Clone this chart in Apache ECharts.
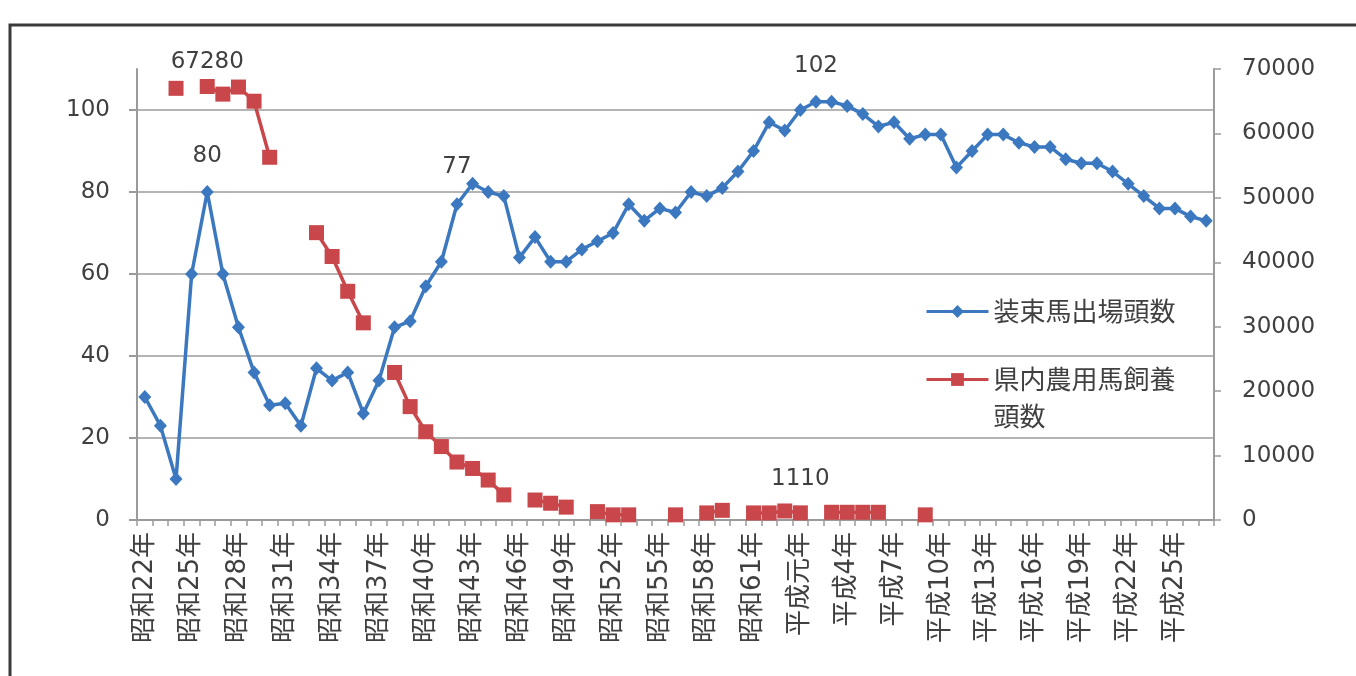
<!DOCTYPE html>
<html>
<head>
<meta charset="utf-8">
<script src="https://cdn.jsdelivr.net/npm/echarts@6/dist/echarts.min.js"></script>
<style>
  html, body { margin: 0; padding: 0; background: #ffffff; }
  #chart { width: 1356px; height: 676px; }
</style>
</head>
<body>
<div id="chart"></div>
<script>
// Years from 昭和22年 (1947) to 平成27年 (2015)
const categories = [
  '昭和22年','昭和23年','昭和24年','昭和25年','昭和26年','昭和27年','昭和28年','昭和29年','昭和30年','昭和31年',
  '昭和32年','昭和33年','昭和34年','昭和35年','昭和36年','昭和37年','昭和38年','昭和39年','昭和40年','昭和41年',
  '昭和42年','昭和43年','昭和44年','昭和45年','昭和46年','昭和47年','昭和48年','昭和49年','昭和50年','昭和51年',
  '昭和52年','昭和53年','昭和54年','昭和55年','昭和56年','昭和57年','昭和58年','昭和59年','昭和60年','昭和61年',
  '昭和62年','昭和63年','平成元年','平成2年','平成3年','平成4年','平成5年','平成6年','平成7年','平成8年',
  '平成9年','平成10年','平成11年','平成12年','平成13年','平成14年','平成15年','平成16年','平成17年','平成18年',
  '平成19年','平成20年','平成21年','平成22年','平成23年','平成24年','平成25年','平成26年','平成27年'
];

const seriesNames = ['装束馬出場頭数', '県内農用馬飼養頭数'];

// 装束馬出場頭数 (left axis)
const paradeHorses = [
  30, 23, 10, 60, 80, 60, 47, 36, 28, 28.5,
  23, 37, 34, 36, 26, 34, 47, 48.5, 57, 63,
  77, 82, 80, 79, 64, 69, 63, 63, 66, 68,
  70, 77, 73, 76, 75, 80, 79, 81, 85, 90,
  97, 95, 100, 102, 102, 101, 99, 96, 97, 93,
  94, 94, 86, 90, 94, 94, 92, 91, 91, 88,
  87, 87, 85, 82, 79, 76, 76, 74, 73
];

// 県内農用馬飼養頭数 (right axis); null = no record that year
const farmHorses = [
  null, null, 67000, null, 67280, 66100, 67200, 65000, 56300, null,
  null, 44600, 40900, 35500, 30600, null, 22900, 17600, 13700, 11400,
  9000, 8000, 6200, 3900, null, 3100, 2600, 2000, null, 1300,
  800, 800, null, null, 800, null, 1100, 1500, null, 1100,
  1100, 1400, 1110, null, 1200, 1200, 1200, 1200, null, null,
  800, null, null, null, null, null, null, null, null, null,
  null, null, null, null, null, null, null, null, null
];

// Points that carry a value label, with the label's gap above the marker
const paradeLabels = [[4, 17], [20, 19], [43, 17]];
const farmLabels = [[4, 5], [42, 15]];

const leftTicks = [0, 20, 40, 60, 80, 100];

const BLUE = '#3B78BF';
const RED = '#C9474A';
const TEXT = '#404040';
const NUM_FONT = "'DejaVu Sans', 'Noto Sans CJK JP', sans-serif";
const CJK_FONT = "'Noto Sans CJK JP', 'DejaVu Sans', sans-serif";

function withLabels(values, labels) {
  const gaps = new Map(labels);
  return values.map((v, i) => gaps.has(i)
    ? { value: v, label: { show: true, distance: gaps.get(i) } }
    : v);
}

const chart = echarts.init(document.getElementById('chart'), null, { renderer: 'canvas' });

const legendCommon = {
  left: 925, padding: 0, itemGap: 0,
  itemWidth: 62, itemHeight: 16,
  lineStyle: { width: 3 },
  textStyle: { fontSize: 26, lineHeight: 37, color: TEXT, fontFamily: CJK_FONT }
};

chart.setOption({
  animation: false,
  backgroundColor: '#ffffff',
  grid: { left: 137, right: 142, top: 69, bottom: 156, containLabel: false },
  graphic: [{
    type: 'rect',
    shape: { x: 10, y: 25, width: 1400, height: 700 },
    style: { fill: 'none', stroke: '#3a3a3a', lineWidth: 3 },
    silent: true
  }],
  legend: [Object.assign({}, legendCommon, {
    data: [seriesNames[0]],
    top: 293
  }), Object.assign({}, legendCommon, {
    data: [seriesNames[1]],
    top: 324,
    // empty first line keeps the marker level with the first text line
    formatter: name => '\n' + name.slice(0, 7) + '\n' + name.slice(7)
  })],
  xAxis: {
    type: 'category',
    data: categories,
    boundaryGap: true,
    axisLine: { lineStyle: { color: '#9a9a9a', width: 2 } },
    axisTick: { show: true, interval: 0, length: 6, lineStyle: { color: '#9a9a9a', width: 1.5 } },
    axisLabel: {
      interval: 2, rotate: 90, margin: 12,
      fontSize: 26, color: TEXT, fontFamily: NUM_FONT
    }
  },
  yAxis: [{
    type: 'value',
    min: 0, max: 110, interval: 20,
    axisLine: { show: true, lineStyle: { color: '#9a9a9a', width: 2 } },
    axisTick: { show: true, length: 8, customValues: leftTicks, lineStyle: { color: '#9a9a9a', width: 2 } },
    axisLabel: {
      margin: 27, fontSize: 23, color: TEXT, fontFamily: NUM_FONT,
      customValues: leftTicks
    },
    splitLine: { show: true, lineStyle: { color: '#b4b4b4', width: 2 } }
  }, {
    type: 'value',
    min: 0, max: 70000, interval: 10000,
    position: 'right',
    axisLine: { show: true, lineStyle: { color: '#9a9a9a', width: 2 } },
    axisTick: { show: true, length: 7, lineStyle: { color: '#9a9a9a', width: 1.5 } },
    axisLabel: {
      margin: 28, fontSize: 23, color: TEXT, fontFamily: NUM_FONT,
      formatter: v => String(v)
    },
    splitLine: { show: false }
  }],
  series: [{
    name: seriesNames[0],
    type: 'line',
    yAxisIndex: 0,
    data: withLabels(paradeHorses, paradeLabels),
    symbol: 'diamond',
    symbolSize: [13, 14],
    showAllSymbol: true,
    lineStyle: { color: BLUE, width: 3.5 },
    itemStyle: { color: BLUE },
    label: { show: false, position: 'top', fontSize: 23, color: TEXT, fontFamily: NUM_FONT },
    z: 2
  }, {
    name: seriesNames[1],
    type: 'line',
    yAxisIndex: 1,
    data: withLabels(farmHorses, farmLabels),
    connectNulls: false,
    symbol: 'rect',
    symbolSize: 15,
    showAllSymbol: true,
    lineStyle: { color: RED, width: 3.5 },
    itemStyle: { color: RED },
    label: { show: false, position: 'top', fontSize: 23, color: TEXT, fontFamily: NUM_FONT },
    z: 3
  }]
});
</script>
</body>
</html>
